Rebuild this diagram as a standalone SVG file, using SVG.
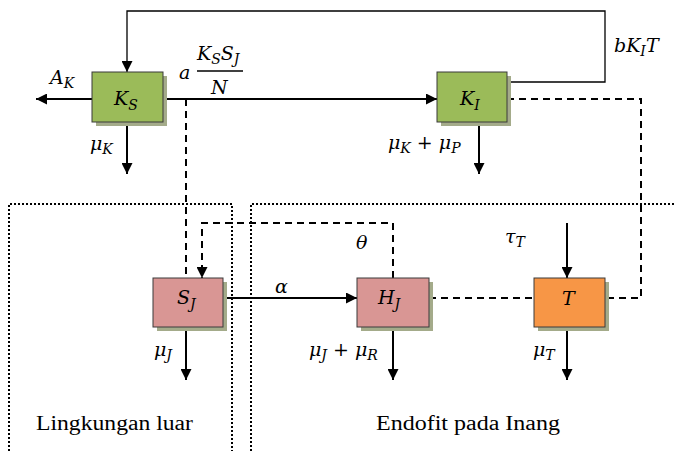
<svg xmlns="http://www.w3.org/2000/svg" width="674" height="451" viewBox="0 0 674 451">
  <defs>
    <marker id="arr" viewBox="0 0 10 10" refX="10" refY="5" markerWidth="11" markerHeight="11" markerUnits="userSpaceOnUse" orient="auto">
      <path d="M0,0 L10,5 L0,10 Z" fill="#000"/>
    </marker>
  </defs>
  <style>
    .box { stroke: #3a3a3a; stroke-width: 1; }
    .shadow { fill: #a4ab8a; }
    .ks { fill: #9bbb59; }
    .sj { fill: #d99694; }
    .t { fill: #f79646; }
    .line { fill: none; stroke: #000; stroke-width: 2; }
    .thin { fill: none; stroke: #000; stroke-width: 1.3; }
    .dash { fill: none; stroke: #000; stroke-width: 2; stroke-dasharray: 7 5; }
    .dot { fill: none; stroke: #000; stroke-width: 2; stroke-dasharray: 2 2; }
  </style>

  <!-- region outlines -->
  <g id="regions">
    <path class="dot" d="M9,451 L9,204 L232,204 L232,451"/>
    <path class="dot" d="M251,451 L251,204 L674,204"/>
  </g>

  <!-- connectors -->
  <g id="connectors">
    <!-- feedback bKIT from KI to KS -->
    <path class="thin" d="M507,82 L605,82 L605,11 L127,11 L127,72" marker-end="url(#arr)"/>
    <!-- AK outflow -->
    <path class="line" d="M92,99 L36,99" marker-end="url(#arr)"/>
    <!-- infection KS -> KI -->
    <path class="line" d="M163,99 L437,99" marker-end="url(#arr)"/>
    <!-- muK -->
    <path class="line" d="M127,122 L127,174" marker-end="url(#arr)"/>
    <!-- muK + muP -->
    <path class="line" d="M479,122 L479,174" marker-end="url(#arr)"/>
    <!-- SJ influence on infection -->
    <path class="dash" d="M186,99 L186,278"/>
    <!-- KI to T dashed -->
    <path class="dash" d="M507,99 L641,99 L641,298 L605,298"/>
    <!-- theta: HJ back to SJ -->
    <path class="dash" d="M393,278 L393,223 L202,223 L202,278" marker-end="url(#arr)"/>
    <!-- alpha SJ -> HJ -->
    <path class="line" d="M223,298 L357,298" marker-end="url(#arr)"/>
    <!-- HJ to T dashed -->
    <path class="dash" d="M429,298 L534,298"/>
    <!-- tauT inflow -->
    <path class="line" d="M567,223 L567,278" marker-end="url(#arr)"/>
    <!-- muJ -->
    <path class="line" d="M186,327 L186,380" marker-end="url(#arr)"/>
    <!-- muJ + muR -->
    <path class="line" d="M393,327 L393,380" marker-end="url(#arr)"/>
    <!-- muT -->
    <path class="line" d="M567,327 L567,380" marker-end="url(#arr)"/>
  </g>

  <!-- nodes -->
  <g id="KS">
    <rect class="shadow" x="96" y="76" width="71" height="50"/>
    <rect class="box ks" x="92" y="72" width="71" height="50"/>
    <text x="114" y="105" font-family="DejaVu Serif, serif" font-style="italic" font-size="19">K<tspan font-size="14" dy="5">S</tspan></text>
  </g>
  <g id="KI">
    <rect class="shadow" x="441" y="76" width="70" height="50"/>
    <rect class="box ks" x="437" y="72" width="70" height="50"/>
    <text x="460" y="105" font-family="DejaVu Serif, serif" font-style="italic" font-size="19">K<tspan font-size="14" dy="5">I</tspan></text>
  </g>
  <g id="SJ">
    <rect class="shadow" x="157" y="282" width="70" height="49"/>
    <rect class="box sj" x="153" y="278" width="70" height="49"/>
    <text x="177" y="304" font-family="DejaVu Serif, serif" font-style="italic" font-size="19">S<tspan font-size="14" dy="5">J</tspan></text>
  </g>
  <g id="HJ">
    <rect class="shadow" x="361" y="282" width="72" height="49"/>
    <rect class="box sj" x="357" y="278" width="72" height="49"/>
    <text x="378" y="304" font-family="DejaVu Serif, serif" font-style="italic" font-size="19">H<tspan font-size="14" dy="5">J</tspan></text>
  </g>
  <g id="T">
    <rect class="shadow" x="538" y="282" width="71" height="49"/>
    <rect class="box t" x="534" y="278" width="71" height="49"/>
    <text x="562" y="305" font-family="DejaVu Serif, serif" font-style="italic" font-size="19">T</text>
  </g>

  <!-- rate labels -->
  <g id="labels" font-family="DejaVu Serif, serif" font-style="italic" font-size="19" fill="#000">
    <text x="50" y="84">A<tspan font-size="14" dy="4">K</tspan></text>
    <text x="179" y="79">a</text>
    <text x="197" y="60">K<tspan font-size="14" dy="4">S</tspan><tspan dy="-4">S</tspan><tspan font-size="14" dy="4">J</tspan></text>
    <line x1="197" y1="71" x2="243" y2="71" stroke="#000" stroke-width="1.5"/>
    <text x="211" y="94">N</text>
    <text x="614" y="52">bK<tspan font-size="14" dy="4">I</tspan><tspan dy="-4">T</tspan></text>
    <text x="90" y="150">μ<tspan font-size="14" dy="4">K</tspan></text>
    <text x="388" y="149">μ<tspan font-size="14" dy="4">K</tspan><tspan dy="-4"> + μ</tspan><tspan font-size="14" dy="4">P</tspan></text>
    <text x="356" y="249">θ</text>
    <text x="505" y="243">τ<tspan font-size="14" dy="4">T</tspan></text>
    <text x="275" y="293">α</text>
    <text x="154" y="356">μ<tspan font-size="14" dy="4">J</tspan></text>
    <text x="309" y="356">μ<tspan font-size="14" dy="4">J</tspan><tspan dy="-4"> + μ</tspan><tspan font-size="14" dy="4">R</tspan></text>
    <text x="533" y="356">μ<tspan font-size="14" dy="4">T</tspan></text>
  </g>
  <g id="regionLabels" font-family="'Liberation Serif', 'DejaVu Serif', serif" font-size="20" fill="#000">
    <text x="36" y="430" textLength="157" lengthAdjust="spacingAndGlyphs">Lingkungan luar</text>
    <text x="376" y="430" textLength="184" lengthAdjust="spacingAndGlyphs">Endofit pada Inang</text>
  </g>
</svg>
